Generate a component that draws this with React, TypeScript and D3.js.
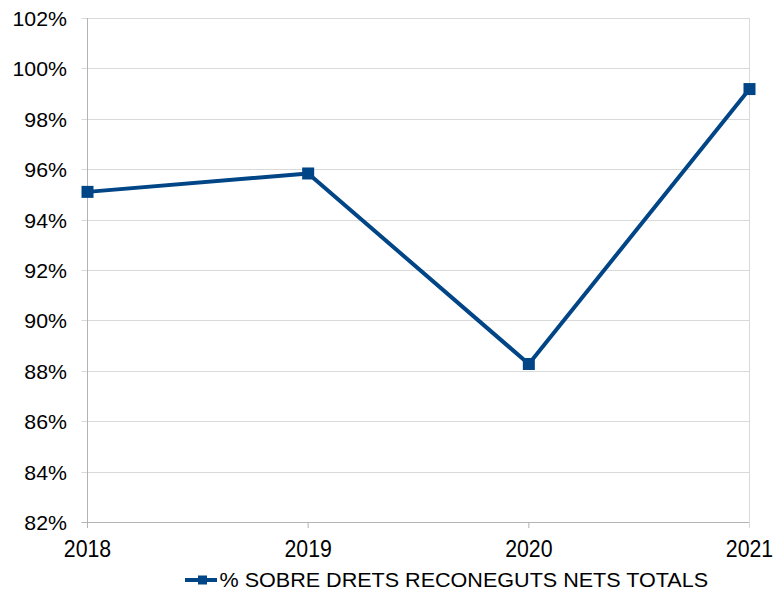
import React from "react";
import * as d3 from "d3";

const years = ["2018", "2019", "2020", "2021"];
const values = [95.1, 95.83, 88.27, 99.18];
const yTicks = [82, 84, 86, 88, 90, 92, 94, 96, 98, 100, 102];
const seriesName = "% SOBRE DRETS RECONEGUTS NETS TOTALS";

export default function App() {
  const W = 776, H = 592;
  const left = 87.5, right = 749.5, top = 18, bottom = 522;
  const x = d3.scalePoint<string>().domain(years).range([left, right]);
  const y = d3.scaleLinear().domain([82, 102]).range([bottom, top]);
  const line = d3.line<number>().x((_, i) => x(years[i])!).y((d) => y(d));
  const color = "#004586";
  const font = "Liberation Sans, Arial, sans-serif";
  return (
    <svg width={W} height={H} style={{ position: "absolute", left: 0, top: 0 }} fontFamily={font}>
      <rect width={W} height={H} fill="#fff" />
      {yTicks.map((t) => (
        <line key={"g" + t} x1={left - 6} x2={right} y1={Math.round(y(t)) + 0.5} y2={Math.round(y(t)) + 0.5}
          stroke={t === 82 ? "#b3b3b3" : "#d9d9d9"} strokeWidth={1} />
      ))}
      <line x1={right} x2={right} y1={top} y2={bottom + 6} stroke="#d9d9d9" />
      {years.slice(1, 3).map((yr) => (
        <line key={"xt" + yr} x1={x(yr)!} x2={x(yr)!} y1={bottom} y2={bottom + 6} stroke="#b3b3b3" />
      ))}
      <line x1={left} x2={left} y1={top} y2={bottom + 6} stroke="#b3b3b3" />
      {yTicks.map((t) => (
        <text key={"l" + t} transform={`translate(67,${y(t) + 8}) scale(1.087,1)`} textAnchor="end"
          fontSize={19.6} fill="#000">
          {t}%
        </text>
      ))}
      {years.map((yr) => (
        <text key={"x" + yr} transform={`translate(${x(yr)!},556.5) scale(0.914,1)`} textAnchor="middle"
          fontSize={23.3} fill="#000">
          {yr}
        </text>
      ))}
      <path d={line(values)!} fill="none" stroke={color} strokeWidth={4} strokeLinejoin="round" />
      {values.map((v, i) => (
        <rect key={"m" + i} x={x(years[i])! - 6} y={y(v) - 6} width={12} height={12} fill={color} />
      ))}
      <line x1={185} x2={217} y1={580} y2={580} stroke={color} strokeWidth={4} />
      <rect x={198} y={575.5} width={9} height={9} fill={color} />
      <text transform="translate(219.5,587.3) scale(1.1,1)" fontSize={19.6} fill="#000">{seriesName}</text>
    </svg>
  );
}
